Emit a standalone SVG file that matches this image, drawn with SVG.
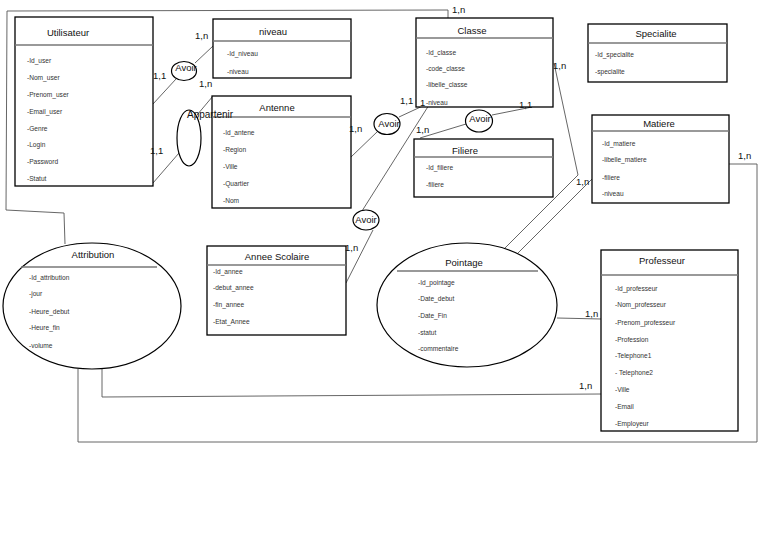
<svg xmlns="http://www.w3.org/2000/svg" width="768" height="543" viewBox="0 0 768 543">
<style>
.box{fill:#fff;stroke:#000;stroke-width:1.3}
.hd{stroke:#777;stroke-width:1.3}
.ell{fill:#fff;stroke:#000;stroke-width:1.2}
.cn{fill:none;stroke:#555;stroke-width:0.9}
.t{font-family:"Liberation Sans",Arial,sans-serif;font-size:9.5px;fill:#111;text-anchor:middle}
.a{font-family:"Liberation Sans",Arial,sans-serif;font-size:6.6px;fill:#333}
.l{font-family:"Liberation Sans",Arial,sans-serif;font-size:9.5px;fill:#111}
</style>
<rect width="768" height="543" fill="#fff"/>
<g id="connectors">
<polyline class="cn" points="153,104 176,79"/>
<polyline class="cn" points="195,63 213,46"/>
<polyline class="cn" points="153,183 179,153"/>
<polyline class="cn" points="197,115 213,96"/>
<polyline class="cn" points="351,157 378,131"/>
<polyline class="cn" points="399,117 427,104"/>
<polyline class="cn" points="429,105 362,211"/>
<polyline class="cn" points="373,230 346,283"/>
<polyline class="cn" points="420,138 466,124"/>
<polyline class="cn" points="492,115 532,107"/>
<polyline class="cn" points="554,63 578,175 505,248"/>
<polyline class="cn" points="592,179 517,254"/>
<polyline class="cn" points="557,318 601,319"/>
<polyline class="cn" points="102,369 102,397 601,394"/>
<polyline class="cn" points="78,369 78,442 757,442 757,164 729,164"/>
<polyline class="cn" points="65,244 64,213 6,210 7,11 448,10 448,18"/>
</g>
<g id="utilisateur">
<rect class="box" x="15" y="17" width="138" height="169"/>
<line class="hd" x1="15" y1="45" x2="153" y2="45"/>
<text class="t" x="68" y="35.5">Utilisateur</text>
<text class="a" x="27" y="63">-Id_user</text>
<text class="a" x="27" y="80">-Nom_user</text>
<text class="a" x="27" y="96.5">-Prenom_user</text>
<text class="a" x="27" y="113.5">-Email_user</text>
<text class="a" x="27" y="130.5">-Genre</text>
<text class="a" x="27" y="146.5">-Login</text>
<text class="a" x="27" y="164">-Password</text>
<text class="a" x="27" y="180.5">-Statut</text>
</g>
<g id="niveau">
<rect class="box" x="213" y="19" width="138" height="59"/>
<line class="hd" x1="213" y1="41" x2="351" y2="41"/>
<text class="t" x="273" y="34.5">niveau</text>
<text class="a" x="227" y="55.5">-Id_niveau</text>
<text class="a" x="227" y="73.5">-niveau</text>
</g>
<g id="antenne">
<rect class="box" x="212" y="96" width="139" height="112"/>
<line class="hd" x1="212" y1="117" x2="351" y2="117"/>
<text class="t" x="277" y="110.5">Antenne</text>
<text class="a" x="223" y="134.5">-Id_antene</text>
<text class="a" x="223" y="151.5">-Region</text>
<text class="a" x="223" y="168.5">-Ville</text>
<text class="a" x="223" y="185.5">-Quartier</text>
<text class="a" x="223" y="202.5">-Nom</text>
</g>
<g id="classe">
<rect class="box" x="416" y="18" width="137" height="89"/>
<line class="hd" x1="416" y1="38" x2="553" y2="38"/>
<text class="t" x="472" y="33.5">Classe</text>
<text class="a" x="426" y="54.5">-Id_classe</text>
<text class="a" x="426" y="70.5">-code_classe</text>
<text class="a" x="426" y="86.5">-libelle_classe</text>
<text class="a" x="426" y="104.5">-niveau</text>
</g>
<g id="filiere">
<rect class="box" x="414" y="139" width="139" height="58"/>
<line class="hd" x1="414" y1="157" x2="553" y2="157"/>
<text class="t" x="465" y="153.5">Filiere</text>
<text class="a" x="426" y="169.5">-Id_filiere</text>
<text class="a" x="426" y="186.5">-filiere</text>
</g>
<g id="specialite">
<rect class="box" x="588" y="24" width="139" height="58"/>
<line class="hd" x1="588" y1="43" x2="727" y2="43"/>
<text class="t" x="656" y="36.5">Specialite</text>
<text class="a" x="595" y="56.5">-Id_specialite</text>
<text class="a" x="595" y="73.5">-specialite</text>
</g>
<g id="matiere">
<rect class="box" x="592" y="115" width="137" height="88"/>
<line class="hd" x1="592" y1="131" x2="729" y2="131"/>
<text class="t" x="659" y="126.5">Matiere</text>
<text class="a" x="602" y="145.5">-Id_matiere</text>
<text class="a" x="602" y="161.5">-libelle_matiere</text>
<text class="a" x="602" y="179.5">-filiere</text>
<text class="a" x="602" y="195.5">-niveau</text>
</g>
<g id="annee-scolaire">
<rect class="box" x="207" y="246" width="139" height="89"/>
<line class="hd" x1="207" y1="265" x2="346" y2="265"/>
<text class="t" x="277" y="259.5">Annee Scolaire</text>
<text class="a" x="213" y="273.5">-Id_annee</text>
<text class="a" x="213" y="289.5">-debut_annee</text>
<text class="a" x="213" y="306.5">-fin_annee</text>
<text class="a" x="213" y="323.5">-Etat_Annee</text>
</g>
<g id="professeur">
<rect class="box" x="601" y="250" width="137" height="181"/>
<line class="hd" x1="601" y1="275" x2="738" y2="275"/>
<text class="t" x="662" y="263.5">Professeur</text>
<text class="a" x="615" y="290.5">-Id_professeur</text>
<text class="a" x="615" y="306.5">-Nom_professeur</text>
<text class="a" x="615" y="324.5">-Prenom_professeur</text>
<text class="a" x="615" y="341.5">-Profession</text>
<text class="a" x="615" y="357.5">-Telephone1</text>
<text class="a" x="615" y="374.5">- Telephone2</text>
<text class="a" x="615" y="391.5">-Ville</text>
<text class="a" x="615" y="408.5">-Email</text>
<text class="a" x="615" y="425.5">-Employeur</text>
</g>
<g id="attribution">
<ellipse class="ell" cx="92" cy="306" rx="89" ry="63"/>
<line class="hd" x1="21" y1="267" x2="157" y2="267"/>
<text class="t" x="93" y="257.5">Attribution</text>
<text class="a" x="29" y="279.5">-Id_attribution</text>
<text class="a" x="29" y="295.5">-jour</text>
<text class="a" x="29" y="313.5">-Heure_debut</text>
<text class="a" x="29" y="329.5">-Heure_fin</text>
<text class="a" x="29" y="347.5">-volume</text>
</g>
<g id="pointage">
<ellipse class="ell" cx="467" cy="305" rx="90" ry="62"/>
<line class="hd" x1="397" y1="271" x2="538" y2="271"/>
<text class="t" x="464" y="265.5">Pointage</text>
<text class="a" x="418" y="284.5">-Id_pointage</text>
<text class="a" x="418" y="300.5">-Date_debut</text>
<text class="a" x="418" y="317.5">-Date_Fin</text>
<text class="a" x="418" y="334.5">-statut</text>
<text class="a" x="418" y="350.5">-commentaire</text>
</g>
<g id="avoir-utilisateur-niveau">
<ellipse class="ell" cx="184" cy="71" rx="12.5" ry="9.5"/>
<text class="t" x="186" y="70.5">Avoir</text>
</g>
<g id="appartenir">
<ellipse class="ell" cx="189" cy="138" rx="12" ry="28"/>
<text class="l" x="187" y="118" style="font-size:10px">Appartenir</text>
</g>
<g id="avoir-antenne-classe">
<ellipse class="ell" cx="387" cy="124" rx="13" ry="10.5"/>
<text class="t" x="389" y="126.5">Avoir</text>
</g>
<g id="avoir-classe-filiere">
<ellipse class="ell" cx="479" cy="121" rx="13.5" ry="11"/>
<text class="t" x="480" y="121.5">Avoir</text>
</g>
<g id="avoir-classe-annee">
<ellipse class="ell" cx="366" cy="220" rx="13" ry="10"/>
<text class="t" x="366" y="222.5">Avoir</text>
</g>
<g id="labels">
<text class="l" x="153" y="78.5">1,1</text>
<text class="l" x="195" y="38.5">1,n</text>
<text class="l" x="199" y="86.5">1,n</text>
<text class="l" x="150" y="153.5">1,1</text>
<text class="l" x="349" y="132">1,n</text>
<text class="l" x="400" y="103.5">1,1</text>
<text class="l" x="420" y="106">1</text>
<text class="l" x="416" y="132.5">1,n</text>
<text class="l" x="519" y="108">1,1</text>
<text class="l" x="345" y="250.5">1,n</text>
<text class="l" x="553" y="68.5">1,n</text>
<text class="l" x="576" y="185">1,n</text>
<text class="l" x="738" y="159">1,n</text>
<text class="l" x="585" y="316.5">1,n</text>
<text class="l" x="579" y="388.5">1,n</text>
<text class="l" x="452" y="13">1,n</text>
</g>
</svg>
